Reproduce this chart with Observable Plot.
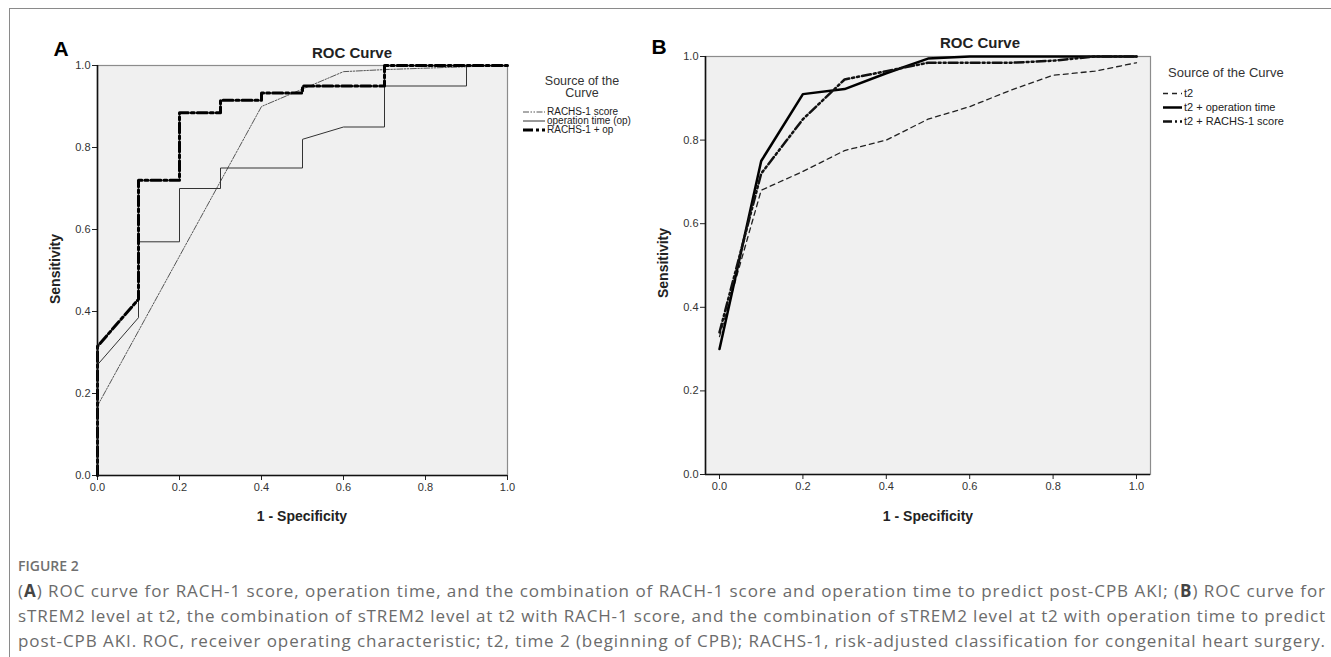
<!DOCTYPE html>
<html>
<head>
<meta charset="utf-8">
<script src="https://cdn.jsdelivr.net/npm/d3@7"></script>
<script src="https://cdn.jsdelivr.net/npm/@observablehq/plot@0.6"></script>
<style>
  html, body { margin:0; padding:0; background:#fff; }
  #root { position:relative; width:1331px; height:657px; overflow:hidden; background:#fff; font-family:"Liberation Sans", Arial, sans-serif; }
  .abs { position:absolute; white-space:nowrap; }
  .frame { position:absolute; left:9px; top:8px; right:-5px; bottom:-5px; border-left:1px solid #8a8a8a; border-top:1px solid #8a8a8a; }
  .ctr { transform:translate(-50%,-50%); }
  .title { font-weight:bold; font-size:15px; color:#222; line-height:1; }
  .plabel { font-weight:bold; font-size:21px; color:#000; line-height:1; }
  .axlab { font-weight:bold; font-size:14px; color:#222; line-height:1; }
  .legtitle { color:#333; line-height:1; }
  .legitem { color:#222; line-height:1; display:flex; align-items:center; }
  .cap { font-family:"Open Sans", "Noto Sans", sans-serif; color:#6b6b6b; font-size:16px; line-height:1; }
  .cap b { color:#444; }
  .fig { font-family:"Open Sans", "Noto Sans", sans-serif; color:#707070; font-size:14px; font-weight:600; line-height:1; }
</style>
</head>
<body>
<div id="root">
  <div class="frame"></div>
</div>
<script>
// ---------- data ----------
const ticks = [0, 0.2, 0.4, 0.6, 0.8, 1.0];

// Panel A
const seriesA = ["RACHS-1 score", "operation time (op)", "RACHS-1 + op"];
const rachsX = [0, 0, 0.4, 0.6, 0.7, 0.9, 1.0];
const rachsY = [0, 0.17, 0.90, 0.985, 0.99, 0.997, 1.0];
const opX = [0, 0, 0.1, 0.1, 0.2, 0.2, 0.3, 0.3, 0.5, 0.5, 0.6, 0.7, 0.7, 0.9, 0.9, 1.0];
const opY = [0, 0.27, 0.385, 0.57, 0.57, 0.70, 0.70, 0.75, 0.75, 0.82, 0.85, 0.85, 0.95, 0.95, 1.0, 1.0];
const comboX = [0, 0, 0.1, 0.1, 0.2, 0.2, 0.3, 0.3, 0.4, 0.4, 0.5, 0.5, 0.7, 0.7, 1.0];
const comboY = [0, 0.315, 0.43, 0.72, 0.72, 0.885, 0.885, 0.915, 0.915, 0.933, 0.933, 0.95, 0.95, 1.0, 1.0];

// Panel B
const seriesB = ["t2", "t2 + operation time", "t2 + RACHS-1 score"];
const t2X = [0, 0.1, 0.2, 0.3, 0.4, 0.5, 0.6, 0.7, 0.8, 0.9, 1.0];
const t2Y = [0.33, 0.68, 0.725, 0.775, 0.80, 0.85, 0.88, 0.92, 0.955, 0.965, 0.985];
const t2opX = [0, 0.1, 0.2, 0.3, 0.4, 0.5, 0.6, 1.0];
const t2opY = [0.30, 0.75, 0.91, 0.922, 0.96, 0.995, 1.0, 1.0];
const t2rX = [0, 0.1, 0.2, 0.3, 0.4, 0.5, 0.7, 0.8, 0.9, 1.0];
const t2rY = [0.34, 0.72, 0.85, 0.945, 0.965, 0.985, 0.985, 0.99, 1.0, 1.0];

// ---------- styles ----------
const stylesA = [
  {stroke:"#555", strokeWidth:1, strokeDasharray:"6,1.5,1.5,1.5,1.5,1.5"},
  {stroke:"#333", strokeWidth:1, strokeDasharray:null},
  {stroke:"#000", strokeWidth:3, strokeDasharray:"10,3,3,3"}
];
const stylesB = [
  {stroke:"#222", strokeWidth:1.3, strokeDasharray:"5,4"},
  {stroke:"#000", strokeWidth:2.5, strokeDasharray:null},
  {stroke:"#111", strokeWidth:2.5, strokeDasharray:"9,3,2,3,2,3"}
];

const zipXY = (xs, ys) => xs.map((x, i) => ({x, y: ys[i]}));
const dataA = [zipXY(rachsX, rachsY), zipXY(opX, opY), zipXY(comboX, comboY)];
const dataB = [zipXY(t2X, t2Y), zipXY(t2opX, t2opY), zipXY(t2rX, t2rY)];

const root = document.getElementById("root");
const fmt = d3.format(".1f");

function panel(data, styles, o) {
  const lines = data.map((d, i) => Plot.line(d, {x:"x", y:"y", ...Object.fromEntries(Object.entries(styles[i]).filter(([k,v]) => v != null))}));
  const svg = Plot.plot({
    width:o.width, height:o.height,
    marginLeft:o.ml, marginRight:o.mr, marginTop:o.mt, marginBottom:o.mb,
    x:{domain:o.xdomain},
    y:{domain:[0, 1]},
    style:{background:"none", fontFamily:"'Liberation Sans', Arial, sans-serif", fontSize:"11px", color:"#333", overflow:"visible"},
    marks:[
      Plot.frame({fill:"#f0f0f0", stroke:"#8c8c8c", strokeWidth:1.2}),
      Plot.axisX({ticks, tickFormat:fmt, tickSize:5, tickPadding:3, label:null, stroke:"#222"}),
      Plot.axisY({ticks, tickFormat:fmt, tickSize:5, tickPadding:2, label:null, stroke:"#222"}),
      ...lines,
      Plot.ruleX([o.xdomain[0]], {stroke:"#111", strokeWidth:1.6}),
      Plot.ruleY([0], {stroke:"#111", strokeWidth:1.6})
    ]
  });
  const wrap = document.createElement("div");
  wrap.className = "abs";
  wrap.style.left = o.left + "px";
  wrap.style.top = "0px";
  wrap.appendChild(svg);
  root.appendChild(wrap);
}

panel(dataA, stylesA, {left:0, width:640, height:530, ml:97, mr:133, mt:65, mb:55, xdomain:[0, 1]});
panel(dataB, stylesB, {left:640, width:560, height:530, ml:65, mr:50, mt:56, mb:56, xdomain:[-0.0336, 1.0336]});

// ---------- texts ----------
function addText(html, cls, x, y, extra) {
  const d = document.createElement("div");
  d.className = "abs " + cls;
  d.innerHTML = html;
  d.style.left = x + "px";
  d.style.top = y + "px";
  if (extra) Object.assign(d.style, extra);
  root.appendChild(d);
  return d;
}
addText("A", "plabel ctr", 61, 48);
addText("B", "plabel ctr", 659, 46);
addText("ROC Curve", "title ctr", 352, 52);
addText("ROC Curve", "title ctr", 980, 42);
addText("Sensitivity", "axlab", 55, 269, {transform:"translate(-50%,-50%) rotate(-90deg)"});
addText("Sensitivity", "axlab", 663, 263, {transform:"translate(-50%,-50%) rotate(-90deg)"});
addText("1 - Specificity", "axlab ctr", 302, 516);
addText("1 - Specificity", "axlab ctr", 928, 516);

// legend A
addText("Source of the", "legtitle ctr", 582, 81, {fontSize:"12.5px"});
addText("Curve", "legtitle ctr", 582, 93, {fontSize:"12.5px"});
// legend B
addText("Source of the Curve", "legtitle", 1168, 72, {fontSize:"13px", transform:"translateY(-50%)"});

function legendItem(label, st, x, y, sw, fs) {
  const d = addText("", "legitem", x, y, {fontSize:fs + "px", transform:"translateY(-50%)"});
  const s = d3.create("svg").attr("width", sw + 2).attr("height", 6).style("overflow", "visible");
  s.append("line").attr("x1", 0).attr("x2", sw).attr("y1", 3).attr("y2", 3)
    .attr("stroke", st.stroke).attr("stroke-width", st.strokeWidth)
    .attr("stroke-dasharray", st.strokeDasharray);
  d.appendChild(s.node());
  const t = document.createElement("span");
  t.textContent = label;
  d.appendChild(t);
}
const legAy = [112, 121, 130];
seriesA.forEach((s, i) => legendItem(s, stylesA[i], 523, legAy[i], 22, 10));
const legBy = [93, 107, 121];
seriesB.forEach((s, i) => legendItem(s, stylesB[i], 1163, legBy[i], 19, 11));

// caption
addText("FIGURE 2", "fig", 18, 566, {transform:"translateY(-50%)"});
const capLines = [
  "(<b>A</b>) ROC curve for RACH-1 score, operation time, and the combination of RACH-1 score and operation time to predict post-CPB AKI; (<b>B</b>) ROC curve for",
  "sTREM2 level at t2, the combination of sTREM2 level at t2 with RACH-1 score, and the combination of sTREM2 level at t2 with operation time to predict",
  "post-CPB AKI. ROC, receiver operating characteristic; t2, time 2 (beginning of CPB); RACHS-1, risk-adjusted classification for congenital heart surgery."
];
const capY = [590, 615, 640];
const capLeft = 18, capRight = 1326;
const capEls = capLines.map((l, i) => addText(l, "cap", capLeft, capY[i], {transform:"translateY(-50%)"}));
// choose a font size so the first line fits naturally, then justify each line via letter-spacing
const w0 = capEls[0].getBoundingClientRect().width;
const fs = Math.min(17, 16 * (capRight - capLeft) / w0);
capEls.forEach(d => {
  d.style.fontSize = fs + "px";
  const w = d.getBoundingClientRect().width;
  const n = d.textContent.length;
  d.style.letterSpacing = ((capRight - capLeft - w) / n) + "px";
});
</script>
</body>
</html>
